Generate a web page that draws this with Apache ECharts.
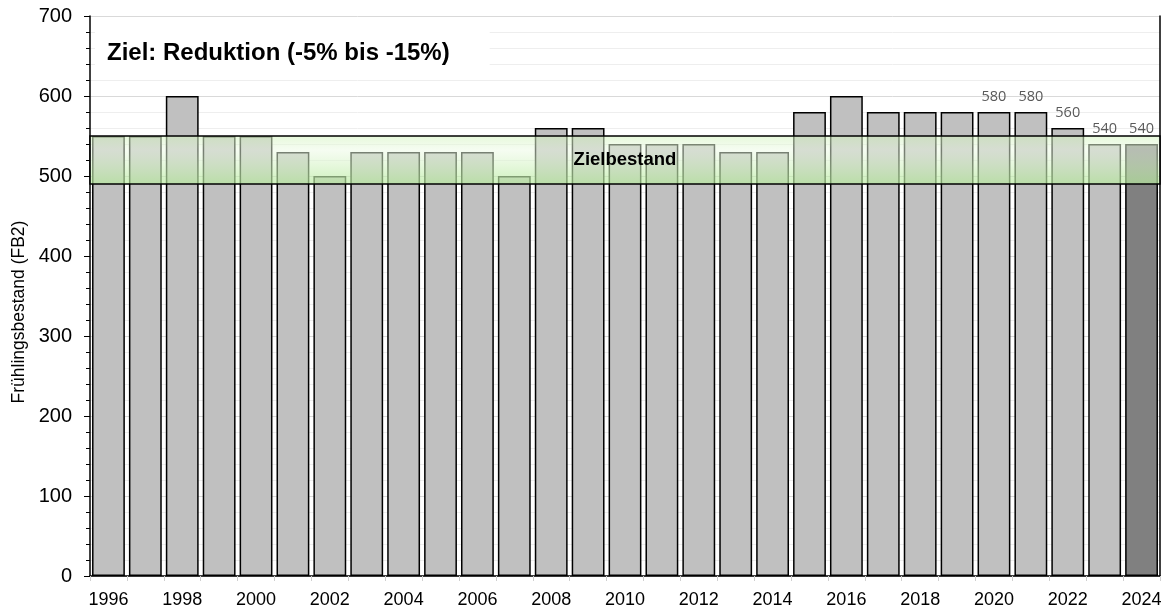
<!DOCTYPE html>
<html>
<head>
<meta charset="utf-8">
<script src="https://cdn.jsdelivr.net/npm/echarts@6/dist/echarts.min.js"></script>
<style>
html,body{margin:0;padding:0;background:#fff;}
#chart{width:1170px;height:612px;}
</style>
</head>
<body>
<div id="chart"></div>
<script>
const years = ['1996','1997','1998','1999','2000','2001','2002','2003','2004','2005','2006','2007','2008','2009','2010','2011','2012','2013','2014','2015','2016','2017','2018','2019','2020','2021','2022','2023','2024'];
const bestand = [550,550,600,550,550,530,500,530,530,530,530,500,560,560,540,540,540,530,530,580,600,580,580,580,580,580,560,540,540];
const labelledYears = ['2020','2021','2022','2023','2024'];
const highlightYear = '2024';
const zielMin = 490;
const zielMax = 550;
const zielLabel = 'Zielbestand';
const titleText = 'Ziel: Reduktion (-5% bis -15%)';
const yAxisName = 'Frühlingsbestand (FB2)';

const chart = echarts.init(document.getElementById('chart'), null, {renderer:'canvas'});
const font = '"Liberation Sans", Arial, sans-serif';

const barData = bestand.map((v,i) => ({
  value: v,
  itemStyle: { color: years[i] === highlightYear ? '#808080' : '#c0c0c0' },
  label: { show: labelledYears.includes(years[i]) }
}));

chart.setOption({
  animation: false,
  backgroundColor: '#fff',
  title: {
    text: titleText,
    left: 95, top: 31,
    padding: [10, 40, 8, 12],
    backgroundColor: '#fff',
    textStyle: { fontFamily: font, fontWeight: 'bold', fontSize: 24, color: '#000' }
  },
  grid: { left: 90, right: 10, top: 16, bottom: 36 },
  xAxis: [{
    type: 'category',
    data: years,
    boundaryGap: true,
    axisLine: { show: true, lineStyle: { color: '#d9d9d9', width: 1 } },
    axisTick: { show: true, interval: 0, length: 5, lineStyle: { color: '#d0d0d0' } },
    axisLabel: { interval: 1, margin: 15, fontFamily: font, fontSize: 18, color: '#000' }
  }, {
    type: 'category',
    data: years,
    position: 'top',
    axisLine: { show: true, lineStyle: { color: '#000', width: 1.5 } },
    axisTick: { show: false },
    axisLabel: { show: false }
  }],
  yAxis: [{
    type: 'value',
    min: 0, max: 700, interval: 100,
    name: yAxisName,
    nameLocation: 'middle',
    nameGap: 62,
    nameTextStyle: { fontFamily: font, fontSize: 17.5, color: '#000', padding: [0, 32, 0, 0] },
    axisLine: { show: true, lineStyle: { color: '#000', width: 1.5 } },
    axisTick: { show: true, length: 6, lineStyle: { color: '#000' } },
    minorTick: { show: true, splitNumber: 5, length: 4, lineStyle: { color: '#000' } },
    axisLabel: { margin: 18, fontFamily: font, fontSize: 20, color: '#000' },
    splitLine: { show: true, lineStyle: { color: '#d9d9d9', width: 1 } },
    minorSplitLine: { show: true, lineStyle: { color: '#eeeeee', width: 1 } }
  }, {
    type: 'value',
    min: 0, max: 700, interval: 100,
    position: 'right',
    axisLine: { show: true, lineStyle: { color: '#000', width: 1.5 } },
    axisTick: { show: false },
    axisLabel: { show: false },
    splitLine: { show: false }
  }],
  series: [{
    type: 'bar',
    data: barData,
    barCategoryGap: '11%',
    z: 2,
    itemStyle: { borderColor: '#000', borderWidth: 1.5 },
    label: {
      show: false,
      position: 'top',
      distance: 8,
      fontFamily: '"Open Sans", "Noto Sans", sans-serif',
      fontSize: 14.5,
      color: '#595959'
    }
  }, {
    type: 'line',
    data: years.map(() => null),
    symbol: 'none',
    z: 5,
    silent: true,
    lineStyle: { opacity: 0 },
    markArea: {
      silent: true,
      z: 10,
      itemStyle: {
        color: new echarts.graphic.LinearGradient(0, 0, 0, 1, [
          { offset: 0, color: 'rgba(212,244,192,0.6)' },
          { offset: 0.3, color: 'rgba(236,250,228,0.5)' },
          { offset: 1, color: 'rgba(182,234,156,0.7)' }
        ]),
        borderColor: '#000',
        borderWidth: 1.5
      },
      label: {
        show: true,
        position: 'inside',
        fontFamily: font,
        fontWeight: 'bold',
        fontSize: 18.5,
        color: '#000'
      },
      data: [[
        { name: zielLabel, yAxis: zielMin },
        { yAxis: zielMax }
      ]]
    }
  }]
});
</script>
</body>
</html>
